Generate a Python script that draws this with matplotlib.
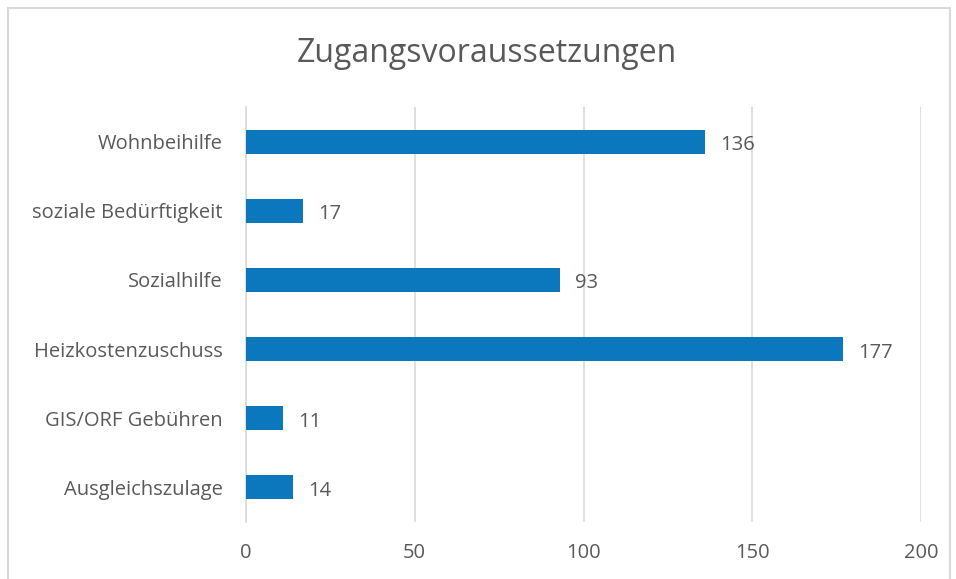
import matplotlib.pyplot as plt
from matplotlib.patches import Rectangle

categories = ['Wohnbeihilfe', 'soziale Bedürftigkeit', 'Sozialhilfe',
              'Heizkostenzuschuss', 'GIS/ORF Gebühren', 'Ausgleichszulage']
values = [136, 17, 93, 177, 11, 14]
xticks = [0, 50, 100, 150, 200]

W, H = 956, 579
fig = plt.figure(figsize=(W / 100, H / 100), dpi=100)
plt.rcParams['font.family'] = ['Open Sans', 'DejaVu Sans']

text_col = '#595959'
bar_col = '#0B78BE'

# chart border
fig.patches.append(Rectangle((8 / W, -0.01), 942 / W, 1 - 8 / H + 0.01,
                             transform=fig.transFigure, fill=False,
                             edgecolor='#D9D9D9', linewidth=1.5))

ax = fig.add_axes([246 / W, 1 - 522 / H, (921 - 246) / W, (522 - 107) / H])
y = list(range(len(categories)))[::-1]
ax.barh(y, values, height=0.347, color=bar_col, zorder=3)
for yi, v in zip(y, values):
    ax.text(v + 4.5, yi - 0.05, str(v), va='center', ha='left',
            fontsize=14.5, color=text_col)

ax.set_xlim(0, 200)
ax.set_ylim(-0.5, len(categories) - 0.5)
ax.set_yticks(y)
ax.set_yticklabels(categories, fontsize=14.5, color=text_col)
ax.set_xticks(xticks)
ax.set_xticklabels([str(t) for t in xticks], fontsize=14.5, color=text_col)
ax.tick_params(axis='both', length=0)
ax.tick_params(axis='x', pad=15)
ax.tick_params(axis='y', pad=17)
ax.grid(axis='x', color='#D9D9D9', linewidth=1.2, zorder=0)
for s in ['top', 'right', 'bottom']:
    ax.spines[s].set_visible(False)
ax.spines['left'].set_color('#D9D9D9')
ax.spines['left'].set_linewidth(1.2)

fig.text(487 / W, 1 - 53 / H, 'Zugangsvoraussetzungen', ha='center',
         va='center', fontsize=23, color=text_col)

fig.savefig('out.png', dpi=100, facecolor='white')
